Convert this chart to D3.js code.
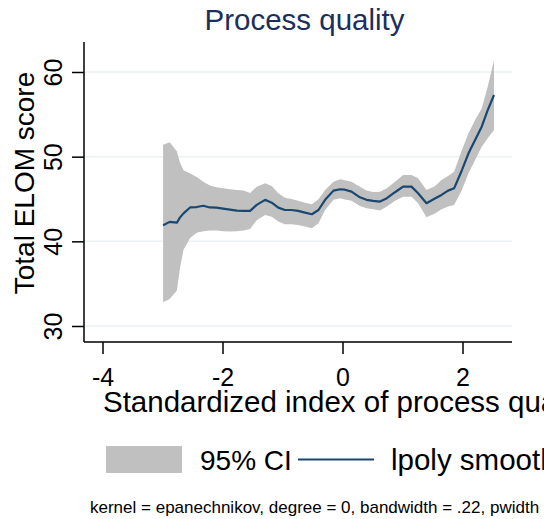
<!DOCTYPE html>
<html>
<head>
<meta charset="utf-8">
<script src="https://cdn.jsdelivr.net/npm/d3@7"></script>
<style>
  body { margin: 0; background: #fff; }
  svg { display: block; font-family: "Liberation Sans", Arial, sans-serif; }
</style>
</head>
<body>
<div id="chart"></div>
<script>
// lpoly estimate points
const gridX = [-2.99, -2.88, -2.76, -2.71, -2.65, -2.54, -2.43, -2.32, -2.21, -2.10, -1.99, -1.875, -1.76, -1.65, -1.54,
  -1.43, -1.29, -1.18, -1.07, -0.96, -0.85, -0.74, -0.625, -0.51, -0.40, -0.29, -0.15, -0.04, 0.04, 0.15,
  0.29, 0.40, 0.51, 0.625, 0.74, 0.875, 1.01, 1.15, 1.26, 1.40, 1.54, 1.65, 1.76, 1.86, 1.99,
  2.10, 2.21, 2.32, 2.42, 2.525];
const smooth = [41.9, 42.3, 42.2, 42.8, 43.3, 44.0, 44.05, 44.2, 44.0, 43.98, 43.86, 43.74, 43.63, 43.6, 43.6,
  44.3, 44.9, 44.57, 43.98, 43.7, 43.7, 43.6, 43.39, 43.2, 43.7, 44.9, 45.99, 46.15, 46.1, 45.87,
  45.2, 44.9, 44.77, 44.7, 45.1, 45.8, 46.46, 46.46, 45.68, 44.5, 45.05, 45.48, 45.99, 46.26, 48.4,
  50.4, 51.97, 53.54, 55.5, 57.28];
const ciLow = [32.8, 33.2, 34.2, 36.8, 39.0, 40.4, 41.0, 41.2, 41.27, 41.27, 41.2, 41.15, 41.2, 41.27, 41.45,
  42.5, 43.1, 42.9, 42.33, 42.02, 42.02, 41.94, 41.74, 41.54, 42.14, 43.7, 44.9, 45.1, 44.95, 44.8,
  44.18, 43.9, 43.78, 43.63, 44.1, 44.8, 45.28, 45.28, 44.5, 42.85, 43.3, 43.78, 44.1, 44.3, 46.07,
  48.04, 49.6, 51.18, 52.17, 53.15];
const ciHigh = [51.4, 51.7, 50.6, 49.3, 48.4, 48.0, 47.6, 47.05, 46.6, 46.4, 46.26, 46.15, 46.07, 45.99, 45.7,
  46.46, 46.86, 46.54, 45.68, 45.16, 45.0, 44.8, 44.57, 44.37, 44.97, 46.07, 47.05, 47.33, 47.2, 47.05,
  46.46, 45.99, 45.83, 45.87, 46.26, 47.05, 47.84, 47.84, 47.45, 46.07, 46.5, 47.25, 47.72, 48.23, 50.8,
  52.76, 54.33, 55.7, 58.26, 61.4];

const xTicks = [-4, -2, 0, 2];
const yTicks = [30, 40, 50, 60];
const titleText = "Process quality";
const xTitle = "Standardized index of process quality";
const yTitle = "Total ELOM score";
const legendLabels = ["95% CI", "lpoly smooth"];
const noteText = "kernel = epanechnikov, degree = 0, bandwidth = .22, pwidth = .33";

const W = 544, H = 519;
const plotLeft = 84, plotRight = 512, plotTop = 42, plotBottom = 342;
const navy = "#1a476f", ciGray = "#c0c0c0", gridCol = "#eaf2f3";

const svg = d3.select("#chart").append("svg")
  .attr("width", W).attr("height", H);

const x = d3.scaleLinear().domain([-4, 2]).range([102.5, 462.5]);
const y = d3.scaleLinear().domain([30, 60]).range([326, 72]);

const pts = gridX.map((v, i) => ({ x: v, fit: smooth[i], lo: ciLow[i], hi: ciHigh[i] }));

// gridlines
svg.append("g").selectAll("line")
  .data(yTicks)
  .enter().append("line")
    .attr("x1", plotLeft).attr("x2", plotRight)
    .attr("y1", d => y(d)).attr("y2", d => y(d))
    .style("stroke", gridCol).style("stroke-width", 1.5);

// CI band
const area = d3.area()
  .x(d => x(d.x))
  .y0(d => y(d.lo))
  .y1(d => y(d.hi));
svg.append("path")
  .datum(pts)
  .attr("d", area)
  .style("fill", ciGray);

// smooth line
const line = d3.line()
  .x(d => x(d.x))
  .y(d => y(d.fit));
svg.append("path")
  .datum(pts)
  .attr("d", line)
  .style("fill", "none")
  .style("stroke", navy)
  .style("stroke-width", 2.2)
  .style("stroke-linejoin", "round");

// axes
const xAxis = svg.append("g")
  .attr("transform", `translate(0, ${plotBottom})`)
  .call(d3.axisBottom(x).tickValues(xTicks).tickSize(12).tickSizeOuter(0).tickFormat(d3.format("d")));
xAxis.select(".domain").remove();
xAxis.selectAll("line").style("stroke", "#000").style("stroke-width", 1.5);
xAxis.selectAll("text")
  .attr("y", 44).attr("dy", null)
  .style("font-size", "25px").style("fill", "#000")
  .text(d => d < 0 ? "-" + Math.abs(d) : d);

const yAxis = svg.append("g")
  .attr("transform", `translate(${plotLeft}, 0)`)
  .call(d3.axisLeft(y).tickValues(yTicks).tickSize(12).tickSizeOuter(0));
yAxis.select(".domain").remove();
yAxis.selectAll("line").style("stroke", "#000").style("stroke-width", 1.5);
yAxis.selectAll("text")
  .attr("x", null).attr("dy", null)
  .attr("text-anchor", "middle")
  .attr("transform", "translate(-22, 0) rotate(-90)")
  .style("font-size", "25px").style("fill", "#000");

svg.append("line")
  .attr("x1", plotLeft).attr("x2", plotRight)
  .attr("y1", plotBottom).attr("y2", plotBottom)
  .style("stroke", "#000").style("stroke-width", 1.5);
svg.append("line")
  .attr("x1", plotLeft).attr("x2", plotLeft)
  .attr("y1", plotTop).attr("y2", plotBottom)
  .style("stroke", "#000").style("stroke-width", 1.5);

// titles
svg.append("text")
  .attr("x", 304.5).attr("y", 30)
  .attr("text-anchor", "middle")
  .style("font-size", "29.5px").style("fill", "#1c2f5c")
  .text(titleText);

svg.append("text")
  .attr("x", 103).attr("y", 412)
  .style("font-size", "29.5px")
  .text(xTitle);

svg.append("text")
  .attr("transform", "translate(34, 183) rotate(-90)")
  .attr("text-anchor", "middle")
  .style("font-size", "28px")
  .text(yTitle);

// legend
svg.append("rect")
  .attr("x", 106).attr("y", 446).attr("width", 76).attr("height", 27)
  .style("fill", ciGray);
svg.append("text")
  .attr("x", 200).attr("y", 470)
  .style("font-size", "28px")
  .text(legendLabels[0]);
svg.append("line")
  .attr("x1", 298).attr("x2", 374).attr("y1", 459.5).attr("y2", 459.5)
  .style("stroke", navy).style("stroke-width", 2);
svg.append("text")
  .attr("x", 391).attr("y", 470)
  .style("font-size", "29.5px")
  .text(legendLabels[1]);

// note
svg.append("text")
  .attr("x", 90).attr("y", 513)
  .style("font-size", "17px")
  .text(noteText);
</script>
</body>
</html>
